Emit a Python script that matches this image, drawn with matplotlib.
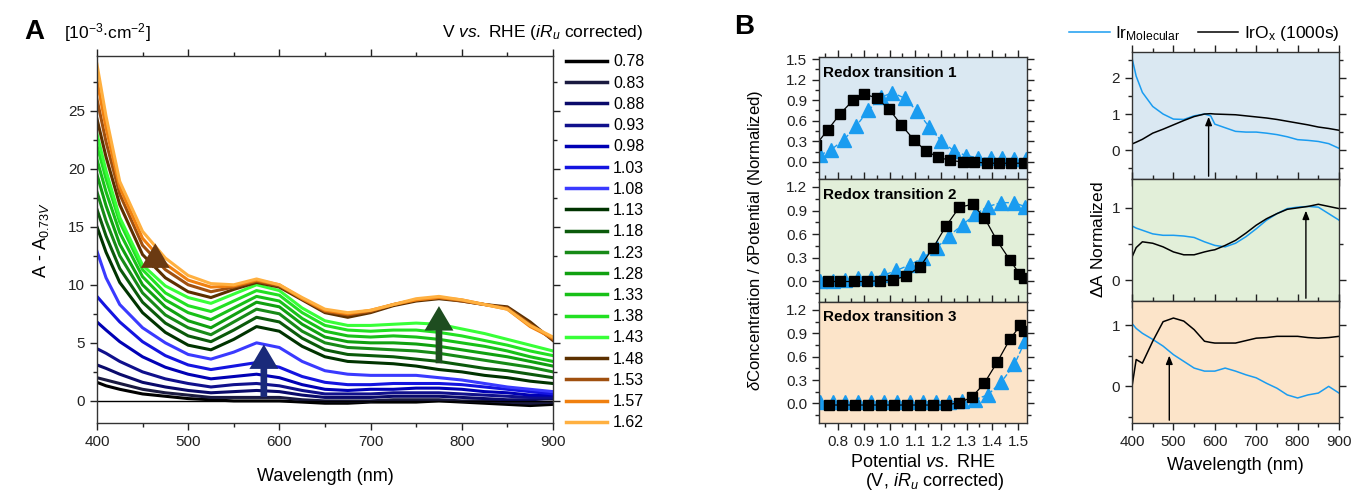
import matplotlib
matplotlib.use('Agg')
import matplotlib.pyplot as plt
from matplotlib.ticker import MultipleLocator, FormatStrFormatter
from matplotlib.lines import Line2D

plt.rcParams['font.family'] = ['Liberation Sans', 'DejaVu Sans']
plt.rcParams['mathtext.fontset'] = 'custom'
plt.rcParams['mathtext.rm'] = 'Liberation Sans'
plt.rcParams['mathtext.it'] = 'Liberation Sans:italic'
plt.rcParams['mathtext.bf'] = 'Liberation Sans:bold'

# ---- panel A: difference spectra at each potential
wl = [400, 410, 425, 450, 475, 500, 525, 550, 575, 600, 625, 650, 675, 700, 725, 750, 775, 800, 825, 850, 875, 900]
a_078 = [1.6, 1.3, 1.0, 0.6, 0.4, 0.2, 0.1, 0.0, 0.0, 0.0, -0.1, -0.2, -0.2, -0.1, -0.1, -0.1, 0.0, -0.1, -0.2, -0.3, -0.4, -0.3]
a_083 = [2.0, 1.8, 1.5, 1.0, 0.7, 0.5, 0.3, 0.3, 0.3, 0.3, 0.1, 0.0, 0.0, 0.0, 0.1, 0.1, 0.1, 0.0, 0.0, -0.1, -0.2, -0.1]
a_088 = [3.1, 2.8, 2.3, 1.6, 1.2, 0.9, 0.7, 0.8, 0.9, 0.8, 0.5, 0.3, 0.3, 0.3, 0.4, 0.4, 0.4, 0.3, 0.2, 0.1, 0.1, 0.2]
a_093 = [4.5, 4.1, 3.4, 2.5, 1.9, 1.5, 1.2, 1.4, 1.5, 1.3, 0.9, 0.6, 0.6, 0.6, 0.7, 0.7, 0.7, 0.6, 0.5, 0.4, 0.3, 0.3]
a_098 = [6.8, 6.1, 5.1, 3.8, 2.9, 2.3, 1.9, 2.1, 2.3, 2.0, 1.4, 1.0, 0.9, 1.0, 1.0, 1.1, 1.1, 1.0, 0.8, 0.7, 0.5, 0.5]
a_103 = [9.0, 8.1, 6.8, 5.1, 3.9, 3.1, 2.7, 3.0, 3.3, 2.9, 2.1, 1.6, 1.4, 1.4, 1.5, 1.5, 1.5, 1.4, 1.2, 1.0, 0.8, 0.6]
a_108 = [12.9, 10.6, 8.3, 6.3, 5.0, 4.0, 3.6, 4.2, 5.0, 4.6, 3.4, 2.6, 2.3, 2.2, 2.2, 2.2, 2.0, 1.8, 1.5, 1.2, 1.0, 0.8]
a_113 = [15.0, 12.8, 10.2, 7.6, 5.9, 4.8, 4.4, 5.3, 6.4, 6.0, 4.7, 3.8, 3.4, 3.3, 3.2, 3.0, 2.7, 2.5, 2.2, 2.0, 1.7, 1.5]
a_118 = [16.5, 14.2, 11.4, 8.5, 6.7, 5.6, 5.1, 6.1, 7.2, 6.8, 5.4, 4.4, 4.0, 3.9, 3.8, 3.6, 3.4, 3.1, 2.8, 2.6, 2.3, 2.0]
a_123 = [18.0, 15.5, 12.5, 9.3, 7.4, 6.3, 5.7, 6.8, 7.9, 7.5, 6.0, 5.0, 4.6, 4.5, 4.4, 4.3, 4.1, 3.8, 3.5, 3.2, 2.9, 2.5]
a_128 = [19.5, 16.8, 13.5, 10.0, 8.1, 6.9, 6.3, 7.4, 8.5, 8.1, 6.6, 5.5, 5.1, 5.0, 5.0, 4.9, 4.7, 4.4, 4.1, 3.8, 3.4, 3.0]
a_133 = [20.8, 18.0, 14.5, 10.7, 8.7, 7.6, 7.0, 8.0, 9.0, 8.6, 7.1, 6.0, 5.6, 5.5, 5.6, 5.5, 5.3, 5.0, 4.7, 4.3, 3.8, 3.4]
a_138 = [22.0, 19.1, 15.4, 11.3, 9.3, 8.2, 7.7, 8.6, 9.5, 9.1, 7.6, 6.5, 6.1, 6.0, 6.1, 6.1, 5.9, 5.6, 5.2, 4.8, 4.3, 3.9]
a_143 = [23.0, 19.8, 15.8, 11.7, 9.9, 8.9, 8.4, 9.2, 10.0, 9.5, 8.0, 6.9, 6.5, 6.5, 6.6, 6.7, 6.6, 6.2, 5.8, 5.3, 4.8, 4.3]
a_148 = [24.3, 21.0, 16.9, 12.6, 10.6, 9.4, 8.9, 9.6, 10.2, 9.8, 8.7, 7.6, 7.2, 7.6, 8.2, 8.6, 8.8, 8.6, 8.3, 8.1, 6.8, 5.2]
a_153 = [26.0, 22.3, 17.8, 13.4, 11.3, 10.0, 9.4, 9.8, 10.3, 9.9, 8.8, 7.7, 7.4, 7.7, 8.3, 8.7, 8.9, 8.6, 8.3, 8.0, 6.6, 5.3]
a_157 = [27.6, 23.5, 18.4, 14.0, 11.8, 10.4, 9.8, 9.9, 10.4, 10.0, 8.8, 7.8, 7.5, 7.8, 8.3, 8.7, 8.9, 8.7, 8.3, 7.9, 6.4, 5.4]
a_162 = [29.0, 24.5, 18.9, 14.6, 12.3, 10.8, 10.1, 10.0, 10.5, 10.0, 8.9, 7.9, 7.6, 7.8, 8.3, 8.8, 9.0, 8.7, 8.3, 7.9, 6.5, 5.5]
potentials = ['0.78', '0.83', '0.88', '0.93', '0.98', '1.03', '1.08', '1.13', '1.18',
              '1.23', '1.28', '1.33', '1.38', '1.43', '1.48', '1.53', '1.57', '1.62']
colors = ['#000000', '#1a1a40', '#0a0a6a', '#10108c', '#0000b4', '#1414e0', '#3a3aff',
          '#003300', '#0b5a0b', '#178a17', '#10a010', '#18c018', '#22e022', '#38ff38',
          '#5c3000', '#a0500f', '#f08010', '#ffb040']
curves = [a_078, a_083, a_088, a_093, a_098, a_103, a_108, a_113, a_118,
          a_123, a_128, a_133, a_138, a_143, a_148, a_153, a_157, a_162]

# ---- panel B middle: redox transitions vs potential
sq1_x = [0.713, 0.760, 0.807, 0.858, 0.902, 0.949, 0.998, 1.045, 1.095, 1.141, 1.188, 1.235, 1.284, 1.330, 1.380, 1.426, 1.473, 1.525]
sq1_y = [0.25, 0.47, 0.70, 0.90, 0.99, 0.93, 0.77, 0.54, 0.32, 0.16, 0.07, 0.02, 0.0, 0.0, -0.02, -0.02, -0.02, -0.02]
tr1_x = [0.730, 0.773, 0.821, 0.869, 0.917, 0.965, 1.011, 1.058, 1.107, 1.154, 1.200, 1.250, 1.299, 1.346, 1.393, 1.439, 1.484, 1.530]
tr1_y = [0.10, 0.18, 0.32, 0.52, 0.75, 0.94, 1.01, 0.93, 0.74, 0.51, 0.31, 0.16, 0.09, 0.06, 0.05, 0.05, 0.04, 0.04]
sq2_x = [0.760, 0.808, 0.860, 0.912, 0.963, 1.013, 1.065, 1.119, 1.168, 1.219, 1.271, 1.323, 1.369, 1.418, 1.469, 1.505, 1.524]
sq2_y = [0.0, 0.0, 0.0, 0.0, 0.01, 0.02, 0.07, 0.19, 0.42, 0.70, 0.94, 0.98, 0.81, 0.52, 0.27, 0.10, 0.04]
tr2_x = [0.730, 0.778, 0.825, 0.875, 0.927, 0.977, 1.026, 1.078, 1.130, 1.184, 1.232, 1.284, 1.333, 1.382, 1.434, 1.484, 1.528]
tr2_y = [0.01, 0.01, 0.02, 0.04, 0.05, 0.08, 0.14, 0.21, 0.30, 0.43, 0.58, 0.72, 0.85, 0.95, 1.0, 1.0, 0.95]
sq3_x = [0.762, 0.814, 0.866, 0.917, 0.967, 1.018, 1.068, 1.119, 1.170, 1.220, 1.271, 1.320, 1.369, 1.419, 1.468, 1.509, 1.525]
sq3_y = [-0.02, -0.02, -0.02, -0.02, -0.02, -0.02, -0.02, -0.02, -0.02, -0.02, 0.01, 0.08, 0.26, 0.53, 0.82, 1.0, 0.93]
tr3_x = [0.730, 0.778, 0.825, 0.875, 0.927, 0.977, 1.029, 1.081, 1.130, 1.182, 1.232, 1.281, 1.333, 1.382, 1.434, 1.486, 1.528]
tr3_y = [0.02, 0.02, 0.02, 0.02, 0.02, 0.02, 0.02, 0.02, 0.02, 0.02, 0.02, 0.03, 0.05, 0.11, 0.27, 0.50, 0.80]

# ---- panel B right: normalized spectra
wl_b = [400, 410, 425, 450, 475, 500, 525, 550, 575, 590, 600, 625, 650, 675, 700, 725, 750, 775, 800, 825, 850, 875, 900]
mol1 = [2.55, 2.05, 1.6, 1.21, 1.0, 0.86, 0.85, 0.95, 1.0, 0.95, 0.72, 0.62, 0.52, 0.5, 0.5, 0.47, 0.43, 0.37, 0.29, 0.27, 0.24, 0.18, 0.05]
ox1 = [0.17, 0.22, 0.3, 0.47, 0.58, 0.7, 0.82, 0.93, 1.0, 1.01, 1.0, 0.99, 0.98, 0.95, 0.92, 0.89, 0.85, 0.8, 0.75, 0.7, 0.64, 0.6, 0.55]
mol2 = [0.75, 0.72, 0.69, 0.64, 0.62, 0.62, 0.61, 0.59, 0.53, 0.5, 0.48, 0.46, 0.51, 0.6, 0.71, 0.83, 0.92, 0.99, 1.01, 1.02, 1.01, 0.92, 0.83]
ox2 = [0.32, 0.45, 0.53, 0.51, 0.46, 0.39, 0.35, 0.35, 0.39, 0.41, 0.42, 0.48, 0.55, 0.65, 0.76, 0.85, 0.92, 0.98, 1.0, 1.02, 1.05, 1.02, 0.99]
mol3 = [1.03, 0.95, 0.87, 0.77, 0.66, 0.52, 0.41, 0.3, 0.25, 0.25, 0.25, 0.3, 0.25, 0.19, 0.14, 0.05, -0.03, -0.14, -0.19, -0.14, -0.11, 0.0, -0.11]
ox3 = [0.0, 0.44, 0.38, 0.74, 1.06, 1.12, 1.07, 0.93, 0.74, 0.72, 0.71, 0.71, 0.71, 0.75, 0.79, 0.8, 0.82, 0.82, 0.82, 0.8, 0.79, 0.8, 0.82]

blue = '#1a9cf0'
bgs = ['#dae8f2', '#e2efd9', '#fce4c9']

fig = plt.figure(figsize=(13.52, 4.95), dpi=100)


def style(ax, xmaj, xmin, ymaj, ymin):
    ax.xaxis.set_major_locator(MultipleLocator(xmaj))
    ax.xaxis.set_minor_locator(MultipleLocator(xmin))
    ax.yaxis.set_major_locator(MultipleLocator(ymaj))
    ax.yaxis.set_minor_locator(MultipleLocator(ymin))
    ax.tick_params(which='both', direction='out', top=True, right=True,
                   labelsize=11, width=1, colors='#222222')
    ax.tick_params(which='major', length=5)
    ax.tick_params(which='minor', length=3)
    for s in ax.spines.values():
        s.set_linewidth(1)
        s.set_color('#333333')


# panel A
axA = fig.add_axes([0.0717, 0.1455, 0.3373, 0.7414])
for c, col, p in zip(curves, colors, potentials):
    axA.plot(wl, c, color=col, lw=2.2, label=p)
axA.axhline(0, color='black', lw=1)
axA.set_xlim(400, 900)
axA.set_ylim(-1.9, 29.7)
style(axA, 100, 50, 5, 2.5)
axA.set_xlabel('Wavelength (nm)', fontsize=13, labelpad=14)
axA.set_ylabel(r'A - A$_{0.73V}$', fontsize=13, labelpad=12)
arrow_style = 'simple,head_width=1.3,head_length=1.1,tail_width=0.3'
axA.annotate('', xy=(583, 5.1), xytext=(583, 0.1),
             arrowprops=dict(arrowstyle=arrow_style, color='#1a2a7a', mutation_scale=16, lw=0))
axA.annotate('', xy=(775, 8.4), xytext=(775, 3.0),
             arrowprops=dict(arrowstyle=arrow_style, color='#1e4d20', mutation_scale=16, lw=0))
axA.annotate('', xy=(464, 13.8), xytext=(464, 11.2),
             arrowprops=dict(arrowstyle=arrow_style, color='#6b3a12', mutation_scale=16, lw=0))
fig.text(0.018, 0.935, 'A', fontsize=20, fontweight='bold', va='center')
fig.text(0.047, 0.935, r'[10$^{-3}$$\cdot$cm$^{-2}$]', fontsize=12.5, va='center')
fig.text(0.4756, 0.935, r'V $\it{vs.}$ RHE ($\it{iR_u}$ corrected)', fontsize=12.5,
         va='center', ha='right')
handles = [Line2D([], [], color=col, lw=2.5) for col in colors]
fig.legend(handles, potentials, loc='upper left', bbox_to_anchor=(0.4185, 0.89), frameon=False,
           fontsize=11.5, handlelength=2.6, handletextpad=0.35, labelspacing=0.39,
           borderaxespad=0, borderpad=0)

# panel B middle column
rows = [(0.6384, 0.2465), (0.3899, 0.2485), (0.1455, 0.2444)]
mid_data = [(sq1_x, sq1_y, tr1_x, tr1_y, (-0.25, 1.53)),
            (sq2_x, sq2_y, tr2_x, tr2_y, (-0.26, 1.30)),
            (sq3_x, sq3_y, tr3_x, tr3_y, (-0.25, 1.30))]
mid_axes = []
for i, ((b, h), (sx, sy, tx, ty, yl)) in enumerate(zip(rows, mid_data)):
    ax = fig.add_axes([0.6058, b, 0.1538, h])
    ax.set_facecolor(bgs[i])
    ax.plot(tx, ty, color=blue, lw=1, ls='--', marker='^', ms=10.5, mec=blue, mfc=blue)
    ax.plot(sx, sy, color='black', lw=0.9, marker='s', ms=6.5)
    ax.set_xlim(0.725, 1.535)
    ax.set_ylim(*yl)
    style(ax, 0.1, 0.05, 0.3, 0.15)
    ax.yaxis.set_major_formatter(FormatStrFormatter('%.1f'))
    ax.xaxis.set_major_formatter(FormatStrFormatter('%.1f'))
    ax.text(0.02, 0.93, 'Redox transition %d' % (i + 1), transform=ax.transAxes,
            fontsize=11, fontweight='bold', va='top')
    if i < 2:
        ax.tick_params(labelbottom=False)
    mid_axes.append(ax)
mid_axes[2].set_xlabel('Potential $\\it{vs.}$ RHE', fontsize=13, labelpad=4)
fig.text(0.691, 0.028, r'(V, $\it{iR_u}$ corrected)', fontsize=13, ha='center', va='center')
fig.text(0.559, 0.515, r'$\delta$Concentration / $\delta$Potential (Normalized)', fontsize=12,
         rotation=90, ha='center', va='center')
fig.text(0.543, 0.945, 'B', fontsize=20, fontweight='bold', va='center')

# panel B right column
rrows = [(0.6384, 0.2566), (0.3919, 0.2465), (0.1455, 0.2465)]
right_data = [(mol1, ox1, (-0.8, 2.72), 585, 1.0),
              (mol2, ox2, (-0.29, 1.40), 820, 1.0),
              (mol3, ox3, (-0.6, 1.40), 490, 0.55)]
right_axes = []
for i, ((b, h), (m, o, yl, ax_x, ax_y)) in enumerate(zip(rrows, right_data)):
    ax = fig.add_axes([0.8373, b, 0.1531, h])
    ax.set_facecolor(bgs[i])
    ax.plot(wl_b, m, color=blue, lw=1.1)
    ax.plot(wl_b, o, color='black', lw=1.1)
    ax.annotate('', xy=(ax_x, ax_y), xytext=(ax_x, yl[0]),
                arrowprops=dict(arrowstyle='-|>,head_width=0.2,head_length=0.5',
                                color='black', lw=1))
    ax.set_xlim(400, 900)
    ax.set_ylim(*yl)
    style(ax, 100, 50, 1, 0.5)
    if i < 2:
        ax.tick_params(labelbottom=False)
    right_axes.append(ax)
right_axes[2].set_xlabel('Wavelength (nm)', fontsize=13, labelpad=6)
fig.text(0.812, 0.515, r'$\Delta$A Normalized', fontsize=12.5, rotation=90,
         ha='center', va='center')
lh = [Line2D([], [], color=blue, lw=1.1), Line2D([], [], color='black', lw=1.1)]
fig.legend(lh, [r'Ir$_{\rm Molecular}$', r'IrO$_{\rm x}$ (1000s)'], loc='center',
           bbox_to_anchor=(0.8905, 0.932), ncol=2, frameon=False, fontsize=12.5,
           handlelength=2.35, handletextpad=0.3, columnspacing=1.0)

fig.savefig('out.png', dpi=100)
